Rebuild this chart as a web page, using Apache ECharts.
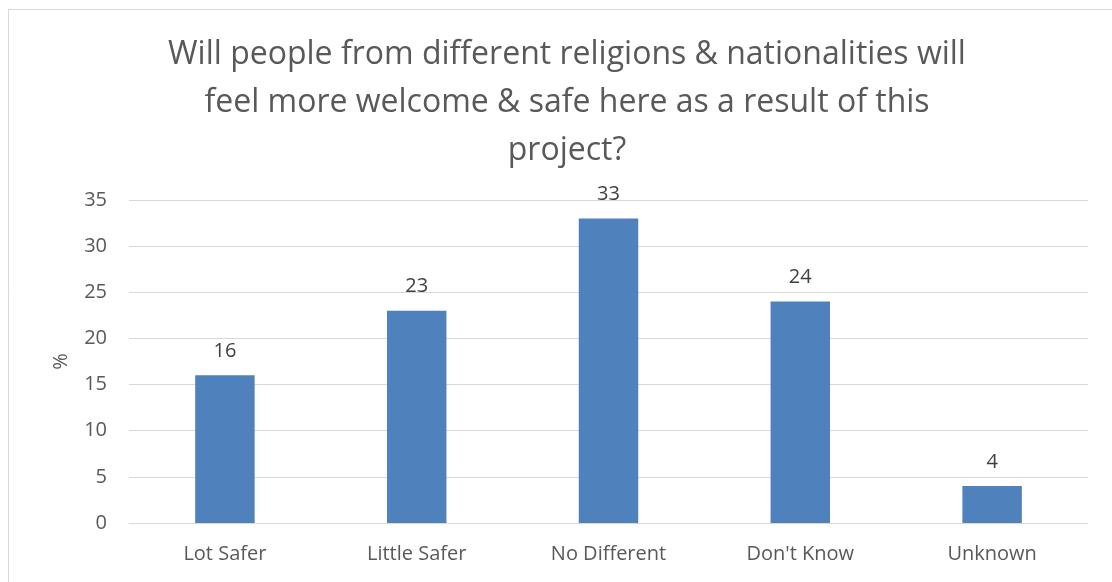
<!DOCTYPE html>
<html>
<head>
<meta charset="utf-8">
<script src="https://cdn.jsdelivr.net/npm/echarts@6/dist/echarts.min.js"></script>
<style>
  html, body { margin: 0; padding: 0; background: #fff; }
  #chart { width: 1112px; height: 582px; }
</style>
</head>
<body>
<div id="chart"></div>
<script>
const titleText = 'Will people from different religions & nationalities will\nfeel more welcome & safe here as a result of this\nproject?';
const categories = ['Lot Safer', 'Little Safer', 'No Different', "Don't Know", 'Unknown'];
const percentages = [16, 23, 33, 24, 4];
const yTicks = { min: 0, max: 35, interval: 5 };

const fontFamily = "'Open Sans', 'Liberation Sans', sans-serif";
const chart = echarts.init(document.getElementById('chart'));

chart.setOption({
  animation: false,
  title: {
    text: titleText,
    left: 562,
    top: 26,
    textAlign: 'center',
    textStyle: {
      fontFamily: fontFamily,
      fontSize: 32,
      fontWeight: 'normal',
      color: '#595959',
      lineHeight: 48
    }
  },
  graphic: [
    { type: 'line', shape: { x1: 8, y1: 9.5, x2: 1112, y2: 9.5 }, style: { stroke: '#d9d9d9', lineWidth: 1 } },
    { type: 'line', shape: { x1: 8.5, y1: 9, x2: 8.5, y2: 582 }, style: { stroke: '#d9d9d9', lineWidth: 1 } }
  ],
  grid: { left: 129, right: 24, top: 200, bottom: 59 },
  xAxis: {
    type: 'category',
    data: categories,
    axisTick: { show: false },
    axisLine: { lineStyle: { color: '#d9d9d9', width: 1 } },
    axisLabel: { color: '#595959', fontSize: 20, fontFamily: fontFamily, margin: 21 }
  },
  yAxis: {
    type: 'value',
    min: yTicks.min,
    max: yTicks.max,
    interval: yTicks.interval,
    name: '%',
    nameLocation: 'middle',
    nameGap: 58,
    nameTextStyle: { color: '#595959', fontSize: 20, fontFamily: fontFamily },
    axisLine: { show: false },
    axisTick: { show: false },
    axisLabel: { color: '#595959', fontSize: 20, fontFamily: fontFamily, margin: 22 },
    splitLine: { lineStyle: { color: '#d9d9d9', width: 1 } }
  },
  series: [{
    type: 'bar',
    data: percentages,
    barWidth: '31%',
    itemStyle: { color: '#4f81bd' },
    label: {
      show: true,
      position: 'top',
      distance: 14,
      color: '#404040',
      fontSize: 20,
      fontFamily: fontFamily
    }
  }]
});
</script>
</body>
</html>
